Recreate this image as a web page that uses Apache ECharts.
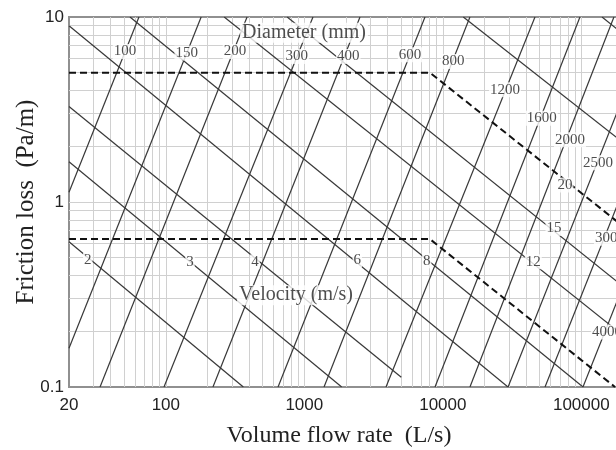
<!DOCTYPE html>
<html>
<head>
<meta charset="utf-8">
<title>Friction loss chart</title>
<script src="https://cdn.jsdelivr.net/npm/echarts@6.0.0/dist/echarts.min.js"></script>
<style>
html, body { margin: 0; padding: 0; background: #fff; }
#main { width: 616px; height: 450px; }
</style>
</head>
<body>
<div id="main"></div>
<script>
// diameter lines (mm): lower end and upper end, [flow L/s, friction Pa/m]
var diaNames = ['100', '150', '200', '300', '400', '600', '800', '1200', '1600', '2000', '2500', '3000', '4000'];
var diaLow = [[20, 1.13], [20, 0.162], [33.5, 0.1], [97, 0.1], [219, 0.1], [646, 0.1], [1388, 0.1],
    [3889, 0.1], [8784, 0.1], [15700, 0.1], [29600, 0.1], [54700, 0.1], [102800, 0.1]];
var diaHigh = [[64, 10], [180, 10], [386, 10], [1155, 10], [2524, 10], [7436, 10], [15700, 10],
    [46300, 10], [97800, 10], [172000, 10], [340000, 10], [630000, 10], [1185000, 10]];
var diaLabelPos = [[50.7, 6.51], [141.5, 6.38], [316, 6.51], [881, 6.12], [2078, 6.12], [5797, 6.25], [11900, 5.75],
    [28120, 4.04], [51760, 2.84], [82860, 2.17], [132000, 1.63], [161000, 0.636], [153000, 0.1985]];

// velocity lines (m/s)
var velNames = ['2', '3', '4', '6', '8', '12', '15', '20'];
var velStart = [[20, 0.61], [20, 1.65], [20, 3.28], [20, 8.97], [55.1, 10], [264, 10], [752, 10], [14060, 10], [141100, 10]];
var velEnd = [[363, 0.1], [1862, 0.1], [5015, 0.113], [29560, 0.1], [102900, 0.1], [200000, 0.19], [200000, 0.35], [200000, 2.1], [200000, 8.1]];
var velLabelPos = [[27.3, 0.485], [149.5, 0.475], [440.6, 0.475], [2413, 0.485], [7650, 0.481], [45010, 0.475], [63490, 0.72], [76240, 1.236]];

// dashed limit lines
var upperLimit = [[20, 5], [8080, 5], [200000, 0.74]];
var lowerLimit = [[20, 0.63], [8080, 0.63], [175100, 0.1]];

// group titles inside the plot
var titleNames = ['Diameter (mm)', 'Velocity (m/s)'];
var titlePos = [[995, 8.22], [871, 0.3137]];

// gridlines at 1..9 per decade
var xDecades = [10, 100, 1000, 10000, 100000];
var yDecades = [0.1, 1];

var gridData = [];
xDecades.forEach(function (d) {
    for (var m = 1; m <= 9; m++) {
        var v = d * m;
        if (v > 20 && v < 200000) gridData.push({xAxis: v});
    }
});
yDecades.forEach(function (d) {
    for (var m = 1; m <= 9; m++) {
        var v = d * m;
        if (v > 0.1) gridData.push({yAxis: v});
    }
});

var serif = 'Liberation Serif';
var sans = 'Liberation Sans';

function plainNumber(v) {
    return '' + parseFloat(v.toPrecision(6));
}

var series = [];

series.push({
    type: 'line',
    data: [],
    silent: true,
    z: 1,
    markLine: {
        silent: true,
        z: 1,
        symbol: 'none',
        animation: false,
        label: {show: false},
        lineStyle: {color: '#d0d0d0', width: 1, type: 'solid'},
        data: gridData
    }
});

for (var i = 0; i < diaLow.length; i++) {
    series.push({
        type: 'line', data: [diaLow[i], diaHigh[i]], symbol: 'none', silent: true, z: 2,
        lineStyle: {color: '#383838', width: 1.2}
    });
}
for (var j = 0; j < velStart.length; j++) {
    series.push({
        type: 'line', data: [velStart[j], velEnd[j]], symbol: 'none', silent: true, z: 2,
        lineStyle: {color: '#383838', width: 1.2}
    });
}

[upperLimit, lowerLimit].forEach(function (d) {
    series.push({
        type: 'line', data: d, symbol: 'none', silent: true, z: 3,
        lineStyle: {color: '#111', width: 2, type: [7, 4]}
    });
});

var numLabels = [];
diaNames.forEach(function (n, k) { numLabels.push({name: n, value: diaLabelPos[k]}); });
velNames.forEach(function (n, k) { numLabels.push({name: n, value: velLabelPos[k]}); });

series.push({
    type: 'scatter', symbolSize: 1, silent: true, z: 6, clip: false,
    itemStyle: {color: 'rgba(0,0,0,0)'},
    data: numLabels,
    label: {
        show: true, position: 'inside', formatter: '{b}',
        fontFamily: serif, fontSize: 15, color: '#222',
        backgroundColor: '#fff', padding: [0, 1]
    }
});

series.push({
    type: 'scatter', symbolSize: 1, silent: true, z: 6, clip: false,
    itemStyle: {color: 'rgba(0,0,0,0)'},
    data: titleNames.map(function (n, k) { return {name: n, value: titlePos[k]}; }),
    label: {
        show: true, position: 'inside', formatter: '{b}',
        fontFamily: serif, fontSize: 20, color: '#222',
        backgroundColor: '#fff', padding: [0, 2]
    }
});

var myChart = echarts.init(document.getElementById('main'));
var option = {
    animation: false,
    backgroundColor: '#fff',
    grid: {
        left: 69, right: -7, top: 17, bottom: 63,
        outerBoundsMode: 'none',
        containLabel: false,
        show: true, borderColor: '#909090', borderWidth: 2
    },
    xAxis: {
        type: 'log', logBase: 10, min: 20, max: 200000,
        axisLine: {show: true, lineStyle: {color: '#909090', width: 2}},
        axisTick: {show: false},
        splitLine: {show: false},
        axisLabel: {fontFamily: sans, fontSize: 17, color: '#222', margin: 10, showMaxLabel: false, formatter: plainNumber},
        name: 'Volume flow rate  (L/s)',
        nameLocation: 'middle',
        nameGap: 37,
        nameMoveOverlap: false,
        nameTextStyle: {fontFamily: serif, fontSize: 24, color: '#222', padding: [0, 14, 0, 0]}
    },
    yAxis: {
        type: 'log', logBase: 10, min: 0.1, max: 10,
        axisLine: {show: true, lineStyle: {color: '#909090', width: 2}},
        axisTick: {show: false},
        splitLine: {show: false},
        axisLabel: {fontFamily: sans, fontSize: 17, color: '#222', margin: 5, formatter: plainNumber},
        name: 'Friction loss  (Pa/m)',
        nameLocation: 'middle',
        nameGap: 30,
        nameMoveOverlap: false,
        nameTextStyle: {fontFamily: serif, fontSize: 25, color: '#222'}
    },
    series: series
};
myChart.setOption(option);
</script>
</body>
</html>
